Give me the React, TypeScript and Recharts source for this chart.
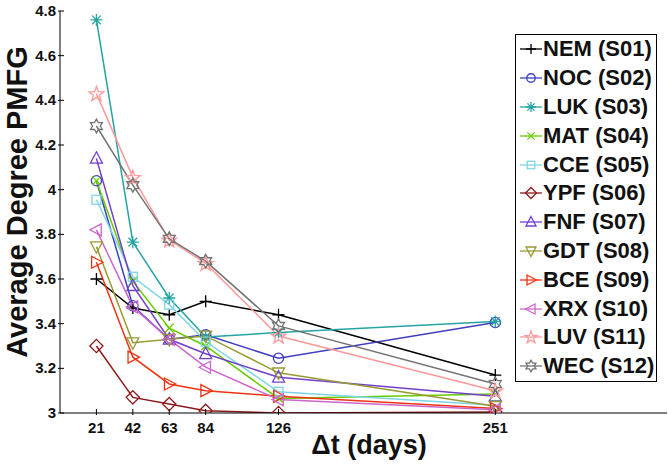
import { LineChart, Line, XAxis, YAxis, Legend } from 'recharts'

const FONT = '"Liberation Sans", Arial, Helvetica, sans-serif'

// x positions (days) and y ticks
const DAYS = [21, 42, 63, 84, 126, 251]
const Y_TICKS = [3, 3.2, 3.4, 3.6, 3.8, 4, 4.2, 4.4, 4.6, 4.8]

// average degree per stock, one value per DAYS entry
const NEM = [3.6, 3.47, 3.44, 3.5, 3.44, 3.17]
const NOC = [4.04, 3.48, 3.33, 3.35, 3.245, 3.405]
const LUK = [4.76, 3.765, 3.515, 3.34, 3.36, 3.41]
const MAT = [4.04, 3.59, 3.38, 3.3, 3.065, 3.085]
const CCE = [3.955, 3.61, 3.485, 3.32, 3.095, 3.035]
const YPF = [3.3, 3.07, 3.04, 3.01, 3.0, 3.005]
const FNF = [4.14, 3.57, 3.33, 3.265, 3.16, 3.075]
const GDT = [3.745, 3.315, 3.33, 3.345, 3.18, 3.03]
const BCE = [3.675, 3.25, 3.13, 3.1, 3.075, 3.02]
const XRX = [3.82, 3.475, 3.33, 3.205, 3.06, 3.015]
const LUV = [4.43, 4.055, 3.775, 3.67, 3.345, 3.1]
const WEC = [4.285, 4.02, 3.78, 3.68, 3.39, 3.13]

type Shape = 'plus' | 'circle' | 'asterisk' | 'x' | 'square' | 'diamond' | 'up' | 'down' | 'right' | 'left' | 'pentagram' | 'hexagram'

const SERIES: { key: string; name: string; color: string; shape: Shape; values: number[] }[] = [
  { key: 'nem', name: 'NEM (S01)', color: '#000000', shape: 'plus', values: NEM },
  { key: 'noc', name: 'NOC (S02)', color: '#3f3fbf', shape: 'circle', values: NOC },
  { key: 'luk', name: 'LUK (S03)', color: '#26a3a3', shape: 'asterisk', values: LUK },
  { key: 'mat', name: 'MAT (S04)', color: '#66cc00', shape: 'x', values: MAT },
  { key: 'cce', name: 'CCE (S05)', color: '#7fd4e6', shape: 'square', values: CCE },
  { key: 'ypf', name: 'YPF (S06)', color: '#8c1a1a', shape: 'diamond', values: YPF },
  { key: 'fnf', name: 'FNF (S07)', color: '#7340cc', shape: 'up', values: FNF },
  { key: 'gdt', name: 'GDT (S08)', color: '#999933', shape: 'down', values: GDT },
  { key: 'bce', name: 'BCE (S09)', color: '#ee3311', shape: 'right', values: BCE },
  { key: 'xrx', name: 'XRX (S10)', color: '#cc66cc', shape: 'left', values: XRX },
  { key: 'luv', name: 'LUV (S11)', color: '#ff9999', shape: 'pentagram', values: LUV },
  { key: 'wec', name: 'WEC (S12)', color: '#737373', shape: 'hexagram', values: WEC },
]

const data = DAYS.map((d, i) => {
  const row: any = { days: d }
  SERIES.forEach(s => { row[s.key] = s.values[i] })
  return row
})

function star(n: number, cx: number, cy: number, R: number, r: number) {
  const pts: string[] = []
  for (let k = 0; k < 2 * n; k++) {
    const a = -Math.PI / 2 + (k * Math.PI) / n
    const rad = k % 2 === 0 ? R : r
    pts.push(`${cx + rad * Math.cos(a)},${cy + rad * Math.sin(a)}`)
  }
  return pts.join(' ')
}

function Marker({ shape, cx, cy, color, s }: { shape: Shape; cx: number; cy: number; color: string; s: number }) {
  const st = { fill: 'none', stroke: color, strokeWidth: 1.3 }
  const d = s * 0.72
  switch (shape) {
    case 'plus':
      return <path d={`M${cx - s},${cy}H${cx + s}M${cx},${cy - s}V${cy + s}`} {...st} />
    case 'circle':
      return <circle cx={cx} cy={cy} r={s * 0.85} {...st} />
    case 'asterisk':
      return <path d={`M${cx - s},${cy}H${cx + s}M${cx},${cy - s}V${cy + s}M${cx - d},${cy - d}L${cx + d},${cy + d}M${cx - d},${cy + d}L${cx + d},${cy - d}`} {...st} />
    case 'x':
      return <path d={`M${cx - d},${cy - d}L${cx + d},${cy + d}M${cx - d},${cy + d}L${cx + d},${cy - d}`} {...st} />
    case 'square':
      return <rect x={cx - s * 0.75} y={cy - s * 0.75} width={s * 1.5} height={s * 1.5} {...st} />
    case 'diamond':
      return <polygon points={`${cx},${cy - s * 1.1} ${cx + s * 1.1},${cy} ${cx},${cy + s * 1.1} ${cx - s * 1.1},${cy}`} {...st} />
    case 'up':
      return <polygon points={`${cx},${cy - s * 1.1} ${cx + s},${cy + s * 0.8} ${cx - s},${cy + s * 0.8}`} {...st} />
    case 'down':
      return <polygon points={`${cx},${cy + s * 1.1} ${cx + s},${cy - s * 0.8} ${cx - s},${cy - s * 0.8}`} {...st} />
    case 'right':
      return <polygon points={`${cx + s * 1.1},${cy} ${cx - s * 0.8},${cy - s} ${cx - s * 0.8},${cy + s}`} {...st} />
    case 'left':
      return <polygon points={`${cx - s * 1.1},${cy} ${cx + s * 0.8},${cy - s} ${cx + s * 0.8},${cy + s}`} {...st} />
    case 'pentagram':
      return <polygon points={star(5, cx, cy + s * 0.1, s * 1.3, s * 0.52)} {...st} />
    case 'hexagram':
      return <polygon points={star(6, cx, cy, s * 1.15, s * 0.65)} {...st} />
  }
  return null
}

const BottomTick = ({ x, y, payload }: any) => (
  <g>
    <line x1={x} x2={x} y1={y} y2={y - 6} stroke="#000" />
    <text x={x} y={y + 18} textAnchor="middle" fontFamily={FONT} fontWeight="bold" fontSize={15} fill="#111">
      {payload.value}
    </text>
  </g>
)

const TopTick = ({ x, y }: any) => <line x1={x} x2={x} y1={y} y2={y + 6} stroke="#000" />

const LeftTick = ({ x, y, payload }: any) => (
  <g>
    <line x1={x} x2={x + 6} y1={y} y2={y} stroke="#000" />
    <text x={x - 2} y={y + 5} textAnchor="end" fontFamily={FONT} fontWeight="bold" fontSize={15} fill="#111">
      {payload.value}
    </text>
  </g>
)

const RightTick = ({ x, y }: any) => <line x1={x} x2={x - 6} y1={y} y2={y} stroke="#000" />

const LegendBox = () => (
  <div style={{ border: '1px solid #000', background: '#fff', boxSizing: 'border-box', width: 142, height: 348 }}>
    {SERIES.map(s => (
      <div key={s.key} style={{ height: 28.8, display: 'flex', alignItems: 'center' }}>
        <svg width={27} height={20} style={{ flex: 'none' }}>
          <line x1={4} x2={26} y1={10} y2={10} stroke={s.color} strokeWidth={1.3} />
          <Marker shape={s.shape} cx={15} cy={10} color={s.color} s={5} />
        </svg>
        <span style={{ fontFamily: FONT, fontWeight: 'bold', fontSize: 22, color: '#111', whiteSpace: 'nowrap', lineHeight: 1 }}>
          {s.name}
        </span>
      </div>
    ))}
  </div>
)

export default function App() {
  return (
    <div style={{ position: 'absolute', left: 0, top: 0, background: '#fff' }}>
      <LineChart width={668} height={464} data={data} margin={{ top: 11, right: 1, bottom: 0, left: 0 }}>
        <XAxis
          dataKey="days"
          type="number"
          domain={[0, 350]}
          ticks={DAYS}
          tickSize={0}
          tickLine={false}
          height={51}
          axisLine={{ stroke: '#000' }}
          tick={<BottomTick />}
          interval={0}
          label={{ content: () => (
            <text x={369} y={454} textAnchor="middle" fontFamily={FONT} fontWeight="bold" fontSize={27} fill="#111">
              Δt (days)
            </text>
          ) }}
        />
        <XAxis
          xAxisId="top"
          orientation="top"
          dataKey="days"
          type="number"
          domain={[0, 350]}
          ticks={DAYS}
          tickSize={0}
          tickLine={false}
          height={0}
          axisLine={{ stroke: '#000' }}
          tick={<TopTick />}
          interval={0}
        />
        <YAxis
          type="number"
          domain={[3, 4.8]}
          ticks={Y_TICKS}
          allowDataOverflow
          tickSize={0}
          tickLine={false}
          width={60}
          axisLine={{ stroke: '#000' }}
          tick={<LeftTick />}
          interval={0}
          label={{ content: () => (
            <text x={27} y={202} transform="rotate(-90 27 202)" textAnchor="middle" fontFamily={FONT} fontWeight="bold" fontSize={29} fill="#111">
              Average Degree PMFG
            </text>
          ) }}
        />
        <YAxis
          yAxisId="right"
          orientation="right"
          type="number"
          domain={[3, 4.8]}
          ticks={Y_TICKS}
          tickSize={0}
          tickLine={false}
          width={0}
          axisLine={{ stroke: '#000' }}
          tick={<RightTick />}
          interval={0}
        />
        {SERIES.map(s => (
          <Line
            key={s.key}
            dataKey={s.key}
            name={s.name}
            stroke={s.color}
            strokeWidth={1.5}
            isAnimationActive={false}
            dot={(p: any) => (
              <g key={`${s.key}-${p.index}`}>
                <Marker shape={s.shape} cx={p.cx} cy={p.cy} color={s.color} s={6} />
              </g>
            )}
            activeDot={false}
          />
        ))}
        <Legend
          layout="vertical"
          align="center"
          verticalAlign="middle"
          wrapperStyle={{ left: 515, top: 34, width: 142, height: 348 }}
          content={() => <LegendBox />}
        />
      </LineChart>
    </div>
  )
}
